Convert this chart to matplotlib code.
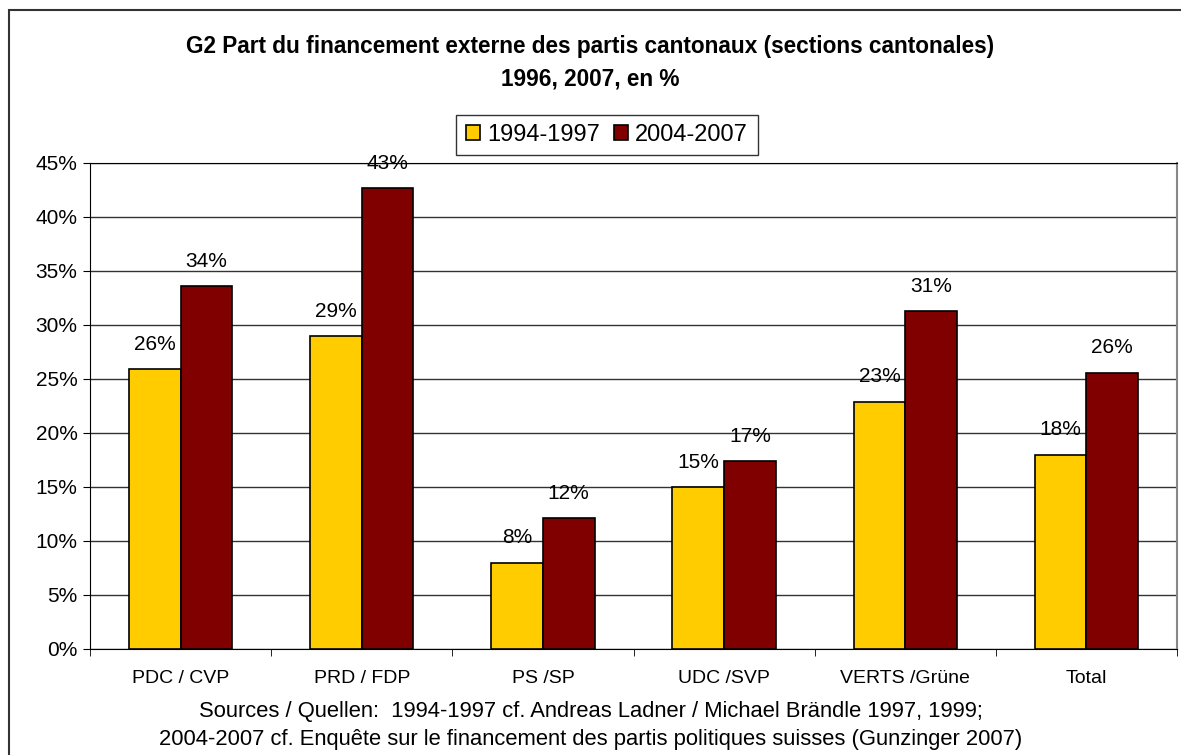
import matplotlib
matplotlib.use("Agg")
import matplotlib.pyplot as plt
from matplotlib.patches import Rectangle
import numpy as np

plt.rcParams['font.family'] = ['Liberation Sans', 'DejaVu Sans']

categories = ['PDC / CVP', 'PRD / FDP', 'PS /SP', 'UDC /SVP', 'VERTS /Grüne', 'Total']
v_1994 = [25.9, 29.0, 8.0, 15.0, 22.9, 18.0]
v_2004 = [33.6, 42.7, 12.1, 17.4, 31.3, 25.6]
labels_1994 = ['26%', '29%', '8%', '15%', '23%', '18%']
labels_2004 = ['34%', '43%', '12%', '17%', '31%', '26%']
series_names = ['1994-1997', '2004-2007']

fig = plt.figure(figsize=(11.81, 7.55), dpi=100)
ax = fig.add_axes([90/1181, 1 - 649/755, (1177 - 90)/1181, (649 - 163)/755])

x = np.arange(len(categories))
w = 0.285
b1 = ax.bar(x - w/2, v_1994, w, color='#FFCC00', edgecolor='black', linewidth=1.2,
            label=series_names[0], zorder=3)
b2 = ax.bar(x + w/2, v_2004, w, color='#800000', edgecolor='black', linewidth=1.2,
            label=series_names[1], zorder=3)

for bars, labs in ((b1, labels_1994), (b2, labels_2004)):
    for r, t in zip(bars, labs):
        ax.annotate(t, (r.get_x() + r.get_width()/2, r.get_height()),
                    xytext=(0, 11), textcoords='offset points',
                    ha='center', va='bottom', fontsize=15, zorder=4)

ax.set_xlim(-0.5, len(categories) - 0.5)
ax.set_ylim(0, 45)
ax.set_yticks(np.arange(0, 46, 5))
ax.set_yticklabels([f'{t}%' for t in range(0, 46, 5)], fontsize=15)
ax.yaxis.grid(True, color='#333333', linewidth=1, zorder=0)
ax.set_xticks(x)
ax.set_xticklabels(categories, fontsize=14)
ax.set_xticks(np.arange(-0.5, len(categories)), minor=True)
ax.tick_params(axis='x', which='major', length=0, pad=15)
ax.tick_params(axis='x', which='minor', length=5, direction='out')
ax.tick_params(axis='y', length=5, direction='out', pad=4)
for s in ('left', 'bottom', 'top'):
    ax.spines[s].set_color('black')
ax.spines['right'].set_color('#888888')
ax.spines['right'].set_linewidth(1.5)

fig.text(0.5, 1 - 47/755, 'G2 Part du financement externe des partis cantonaux (sections cantonales)',
         ha='center', va='center', fontsize=16.3, fontweight='bold')
fig.text(0.5, 1 - 79/755, '1996, 2007, en %', ha='center', va='center',
         fontsize=16.3, fontweight='bold')

fig.legend(handles=[b1, b2], loc='center', bbox_to_anchor=(607/1181, 1 - 135/755),
           ncol=2, fontsize=17, frameon=True, fancybox=False, edgecolor='black',
           handlelength=0.6, handleheight=0.6, handletextpad=0.3, columnspacing=0.6,
           borderpad=0.4)

fig.text(0.5, 1 - 711/755, 'Sources / Quellen:  1994-1997 cf. Andreas Ladner / Michael Brändle 1997, 1999;',
         ha='center', va='center', fontsize=15.8)
fig.text(0.5, 1 - 740/755, '2004-2007 cf. Enquête sur le financement des partis politiques suisses (Gunzinger 2007)',
         ha='center', va='center', fontsize=15.8)

fig.patches.append(Rectangle((9/1181, -0.1), 1.2, 1 - 10/755 + 0.1,
                             transform=fig.transFigure, fill=False,
                             edgecolor='#333333', linewidth=1.5))

fig.savefig('out.png', dpi=100)
